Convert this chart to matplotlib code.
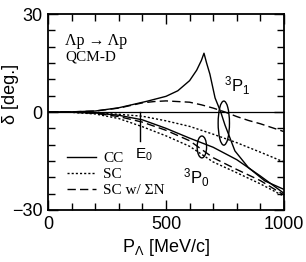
import matplotlib
matplotlib.use("Agg")
import matplotlib.pyplot as plt
from matplotlib.patches import Ellipse
from matplotlib.ticker import MultipleLocator
import numpy as np

# 3P1 CC
p1_cc = [0, 100, 200, 300, 360, 420, 500, 550, 600, 630, 650, 661, 672, 686, 708, 732, 750, 765, 792, 849, 919, 1000]
d1_cc = [0, 0.05, 0.3, 1.3, 2.3, 3.3, 4.8, 6.5, 9.6, 12.8, 15.8, 18.0, 15.0, 11.6, 4.3, 0.0, -4.0, -6.8, -11.9, -17.0, -21.1, -23.7]
# 3P1 SC
p1_sc = [0, 100, 200, 300, 400, 500, 600, 700, 800, 900, 1000]
d1_sc = [0, -0.05, -0.3, -0.7, -1.3, -2.7, -4.4, -6.8, -9.4, -12.3, -15.3]
# 3P1 SC w/ SigmaN
p1_sn = [0, 100, 200, 300, 400, 450, 500, 600, 650, 700, 750, 800, 850, 900, 1000]
d1_sn = [0, 0.05, 0.3, 1.2, 2.8, 3.2, 3.4, 3.0, 2.2, 1.2, 0.0, -1.4, -2.6, -3.6, -6.0]
# 3P0 CC
p0_cc = [0, 100, 200, 300, 400, 500, 600, 700, 800, 900, 1000]
d0_cc = [0, -0.05, -0.3, -1.0, -2.4, -5.0, -8.0, -10.8, -14.6, -19.6, -24.9]
# 3P0 SC
p0_sc = [0, 100, 200, 300, 400, 500, 600, 700, 800, 900, 1000]
d0_sc = [0, -0.1, -0.6, -2.0, -4.5, -7.3, -10.5, -15.3, -18.6, -22.0, -25.8]
# 3P0 SC w/ SigmaN
p0_sn = [0, 100, 200, 300, 400, 500, 600, 700, 800, 900, 1000]
d0_sn = [0, -0.05, -0.4, -1.4, -3.1, -5.6, -8.8, -14.0, -17.6, -21.0, -25.4]

E0 = 390

serif = ["Liberation Serif", "DejaVu Serif"]
sans = ["Liberation Sans", "DejaVu Sans"]
plt.rcParams['font.family'] = sans
plt.rcParams['mathtext.fontset'] = 'custom'
plt.rcParams['mathtext.rm'] = 'Liberation Sans'
plt.rcParams['mathtext.it'] = 'Liberation Sans'

fig = plt.figure(figsize=(3.06, 2.62), dpi=100)
ax = fig.add_axes([0.157, 0.1985, 0.771, 0.748])

lw = 1.0
dot = (0, (1.5, 1.5))
dash = (0, (6, 3))
ax.plot(p1_cc, d1_cc, color='black', lw=lw, ls='-', label='CC')
ax.plot(p1_sc, d1_sc, color='black', lw=lw, ls=dot, label='SC')
ax.plot(p1_sn, d1_sn, color='black', lw=lw, ls=dash, label='SC w/ ΣN')
ax.plot(p0_cc, d0_cc, color='black', lw=lw, ls='-')
ax.plot(p0_sc, d0_sc, color='black', lw=lw, ls=dot)
ax.plot(p0_sn, d0_sn, color='black', lw=lw, ls=dash)

ax.axhline(0, color='black', lw=0.9)
ax.plot([E0, E0], [0, -9], color='black', lw=1.0)
ax.text(E0 + 15, -13, r'E$_0$', fontsize=11, ha='center', va='center')

ax.add_patch(Ellipse((745, -3.4), 48, 13.5, angle=0, fill=False, lw=1.0, color='black'))
ax.add_patch(Ellipse((652, -10.7), 40, 6.7, angle=0, fill=False, lw=1.0, color='black'))
ax.text(800, 8, r'$^3$P$_1$', fontsize=12, ha='center', va='center')
ax.text(627, -20, r'$^3$P$_0$', fontsize=12, ha='center', va='center')

ax.text(72, 21.8, 'Λp → Λp', fontsize=11.5, family=serif, ha='left', va='center')
ax.text(72, 16.8, 'QCM-D', fontsize=11, family=serif, ha='left', va='center')

leg = ax.legend(loc='lower left', bbox_to_anchor=(0.04, 0.02), frameon=False,
                prop={'family': serif, 'size': 11}, handlelength=1.9,
                handletextpad=0.5, labelspacing=0.15, borderaxespad=0.2)

ax.set_xlim(0, 1000)
ax.set_ylim(-30, 30)
ax.xaxis.set_major_locator(MultipleLocator(500))
ax.xaxis.set_minor_locator(MultipleLocator(100))
ax.yaxis.set_major_locator(MultipleLocator(30))
ax.yaxis.set_minor_locator(MultipleLocator(5))
ax.tick_params(which='both', direction='in', top=True, right=True, labelsize=13, width=1.0)
ax.tick_params(which='major', length=7, pad=4)
ax.tick_params(which='minor', length=5)
ax.set_yticks([-30, 0, 30])
ax.set_yticklabels(['−30', '0', '30'])
for s in ax.spines.values():
    s.set_linewidth(1.3)

ax.set_xlabel(r'P$_\Lambda$ [MeV/c]', fontsize=13, labelpad=3)
fig.text(0.035, 0.64, 'δ [deg.]', rotation=90, fontsize=13, ha='center', va='center')

fig.savefig('out.png', dpi=100)
